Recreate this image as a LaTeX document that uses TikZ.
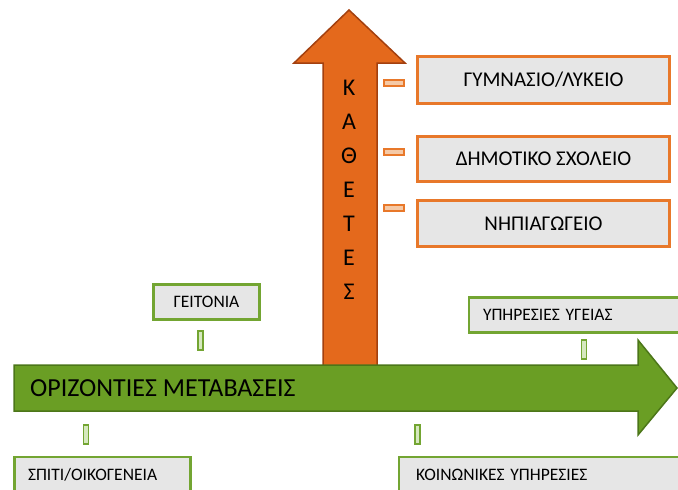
\documentclass[tikz,border=0pt]{standalone}
\usepackage{fontspec}
\setmainfont{Carlito}
\usepackage{tikz}
\usetikzlibrary{positioning}
\usetikzlibrary{shapes,arrows}
\definecolor{orfill}{HTML}{E4691C}
\definecolor{ordark}{HTML}{A3400F}
\definecolor{orline}{HTML}{E8782A}
\definecolor{grfill}{HTML}{6A9E24}
\definecolor{grdark}{HTML}{4C7619}
\definecolor{grline}{HTML}{73A532}
\definecolor{boxgray}{HTML}{E6E6E6}
\definecolor{dashfill}{HTML}{F5C9A6}
\definecolor{barfill}{HTML}{D6E8BF}

\tikzset{
  obox/.style={draw=orline, line width=2.5pt, fill=boxgray, minimum width=252pt,
    font=\fontsize{21}{24}\selectfont},
  gbox/.style={draw=grline, line width=2.5pt, fill=boxgray, minimum height=35pt,
    font=\fontsize{17.5}{20}\selectfont},
  odash/.style={draw=orline, line width=1.5pt, fill=dashfill, minimum width=20pt,
    minimum height=6pt, inner sep=0pt},
  gbar/.style={draw=grline, line width=1.5pt, fill=barfill, minimum width=5pt,
    minimum height=19pt, inner sep=0pt},
  vletter/.style={font=\fontsize{24}{28}\selectfont, inner sep=0pt}
}

\begin{document}
\begin{tikzpicture}[x=1pt,y=-1pt]
  \useasboundingbox (0,0) rectangle (678,490);
  \clip (0,0) rectangle (678,490);

  % vertical arrow
  \draw[fill=orfill, draw=ordark, line width=1.5pt]
    (323,368) -- (323,63) -- (294,63) -- (349,10) -- (405,63) -- (377,63) -- (377,368);
  \foreach \ch [count=\i] in {Κ,Α,Θ,Ε,Τ,Ε,Σ}
    \node(up\i) [vletter] at (349,{54+34*\i}) {\ch};

  % horizontal arrow
  \draw[fill=grfill, draw=grdark, line width=1.5pt]
    (14,365) -- (638,365) -- (638,340) -- (677,388) -- (638,435) -- (638,411) -- (14,411) -- cycle;
  \node(horiz) [anchor=west, inner sep=0pt, font=\fontsize{26}{30}\selectfont] at (30,388) {ΟΡΙΖΟΝΤΙΕΣ ΜΕΤΑΒΑΣΕΙΣ};

  % schools
  \node(gym) [obox, minimum height=47pt] at (543.5,80) {ΓΥΜΝΑΣΙΟ/ΛΥΚΕΙΟ};
  \node(dim) [obox, minimum height=45pt] at (543.5,159) {ΔΗΜΟΤΙΚΟ ΣΧΟΛΕΙΟ};
  \node(nip) [obox, minimum height=46pt] at (543.5,223.5) {ΝΗΠΙΑΓΩΓΕΙΟ};
  \node(gymd) [odash] at (394,83) {};
  \node(dimd) [odash] at (394,152) {};
  \node(nipd) [odash] at (394,208) {};

  % community
  \node(geit) [gbox, minimum width=106pt] at (206.5,302) {ΓΕΙΤΟΝΙΑ};
  \node(geitb) [gbar] at (200.5,340.5) {};
  \node(ygeia) [gbox, minimum width=240pt, text width=212pt, align=left] at (589,315) {ΥΠΗΡΕΣΙΕΣ ΥΓΕΙΑΣ};
  \node(ygeiab) [gbar] at (584,349.5) {};
  \node(spiti) [gbox, minimum width=176pt, text width=149pt, align=left] at (102.5,474.5) {ΣΠΙΤΙ/ΟΙΚΟΓΕΝΕΙΑ};
  \node(spitib) [gbar] at (86,434.5) {};
  \node(koin) [gbox, minimum width=300pt, text width=266pt, align=left] at (549,474.5) {ΚΟΙΝΩΝΙΚΕΣ ΥΠΗΡΕΣΙΕΣ};
  \node(koinb) [gbar] at (417.5,434.5) {};
\end{tikzpicture}
\end{document}
